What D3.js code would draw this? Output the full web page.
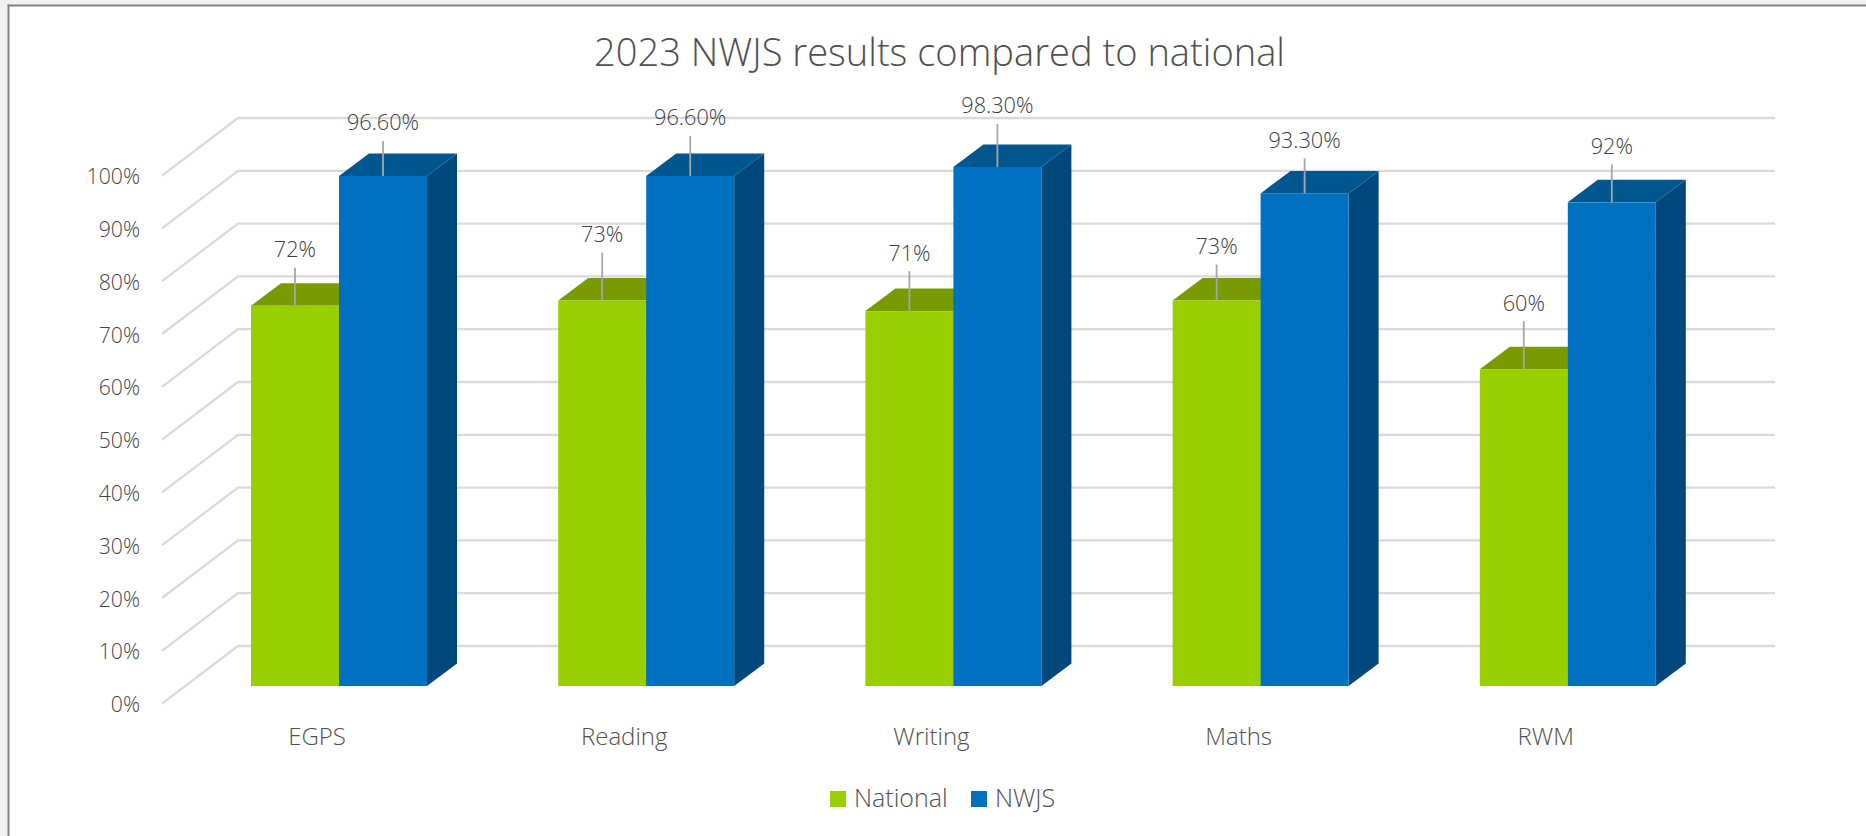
<!DOCTYPE html>
<html>
<head>
<meta charset="utf-8">
<script src="https://cdn.jsdelivr.net/npm/d3@7/dist/d3.min.js"></script>
<style>
html,body{margin:0;padding:0;background:#fff;overflow:hidden}
svg{display:block}
text{font-family:"Open Sans",sans-serif;fill:#505050}
</style>
</head>
<body>
<svg id="chart" width="1866" height="836"></svg>
<script>
const titleText = "2023 NWJS results compared to national";
const categories = ["EGPS", "Reading", "Writing", "Maths", "RWM"];
const seriesNames = ["National", "NWJS"];
const nationalValues = [72, 73, 71, 73, 60];
const nwjsValues = [96.6, 96.6, 98.3, 93.3, 91.6];
const nationalLabels = ["72%", "73%", "71%", "73%", "60%"];
const nwjsLabels = ["96.60%", "96.60%", "98.30%", "93.30%", "92%"];
const tickValues = [0, 10, 20, 30, 40, 50, 60, 70, 80, 90, 100];
const nationalLeaders = [38, 48, 40, 36, 48];
const nwjsLeaders = [35, 40, 43, 35, 38];

const W = 1866, H = 836;
const svg = d3.select("#chart");

// window chrome
svg.append("rect").attr("x",0).attr("y",0).attr("width",W).attr("height",4.5).attr("fill","#f0f0f0");
svg.append("rect").attr("x",0).attr("y",0).attr("width",7.5).attr("height",H).attr("fill","#f0f0f0");
svg.append("rect").attr("x",7.5).attr("y",4.5).attr("width",W-7.5).attr("height",2).attr("fill","#808080");
svg.append("rect").attr("x",7.5).attr("y",4.5).attr("width",2).attr("height",H-4.5).attr("fill","#808080");

// scales: bars stand on the front plane
const y = d3.scaleLinear().domain([0,100]).range([686,158]);
const band = d3.scaleBand().domain(categories).range([185.4,1721.4]).paddingInner(0).paddingOuter(0);
const barW = 88, barDx = 30, barDy = 22.5;
const barLeft = c => band(c) + (band.bandwidth() - 2*barW)/2;

// grid: offsets from the bar plane to the wall and to the floor's front edge
const wallDy = -40, wallX = 238, gridRight = 1775, frontX = 162, frontDy = 17.6;
const grid = svg.append("g").attr("fill","none").attr("stroke","#dadada").attr("stroke-width",2.3);
grid.selectAll("path").data(tickValues).join("path")
  .attr("d", v => d3.line()([[frontX, y(v)+frontDy],[wallX, y(v)+wallDy],[gridRight, y(v)+wallDy]]));

// axes (text only)
const axisY = d3.axisLeft(y).tickValues(tickValues).tickFormat(v => v + "%").tickSize(0).tickPadding(0);
const gy = svg.append("g").attr("transform","translate(140,19)").call(axisY);
gy.select(".domain").remove();
gy.selectAll("text").attr("font-size",21.2).attr("font-weight",300).style("font-family",'"Open Sans",sans-serif').style("fill","#454545");

const axisX = d3.axisBottom(band).tickSize(0).tickPadding(0);
const gx = svg.append("g").attr("transform","translate(-22,728.2)").call(axisX);
gx.select(".domain").remove();
gx.selectAll("text").attr("font-size",24).attr("font-weight",300).style("font-family",'"Open Sans",sans-serif').style("fill","#505050");

// bars
const palette = [
  {front:"#99cf00", top:"#789b00", side:"#6f9000"},
  {front:"#0070c0", top:"#00568f", side:"#00487c"}
];
const seriesValues = [nationalValues, nwjsValues];
const seriesLabels = [nationalLabels, nwjsLabels];
const seriesLeaders = [nationalLeaders, nwjsLeaders];

const bars = [];
categories.forEach((c,i) => {
  seriesValues.forEach((vals,s) => {
    bars.push({c, s, v: vals[i], label: seriesLabels[s][i], leader: seriesLeaders[s][i]});
  });
});
const line = d3.line();
const g = svg.append("g").selectAll("g").data(bars).join("g");
g.each(function(d){
  const sel = d3.select(this);
  const x0 = barLeft(d.c) + d.s*barW, x1 = x0 + barW, y0 = y(0), yt = y(d.v), p = palette[d.s];
  sel.append("path").attr("fill",p.side)
    .attr("d", line([[x1,y0],[x1+barDx,y0-barDy],[x1+barDx,yt-barDy],[x1,yt]])+"Z");
  sel.append("path").attr("fill",p.top)
    .attr("d", line([[x0,yt],[x0+barDx,yt-barDy],[x1+barDx,yt-barDy],[x1,yt]])+"Z");
  sel.append("rect").attr("fill",p.front).attr("x",x0).attr("y",yt).attr("width",barW).attr("height",y0-yt);
});
// leaders and labels sit over all bars
const ann = svg.append("g").selectAll("g").data(bars).join("g");
ann.append("line")
  .attr("x1", d => barLeft(d.c)+d.s*barW+barW/2).attr("x2", d => barLeft(d.c)+d.s*barW+barW/2)
  .attr("y1", d => y(d.v)).attr("y2", d => y(d.v)-d.leader)
  .attr("stroke","#a6a6a6").attr("stroke-width",1.8);
ann.append("text")
  .attr("x", d => barLeft(d.c)+d.s*barW+barW/2)
  .attr("y", d => y(d.v)-d.leader-10.5)
  .attr("text-anchor","middle").attr("font-size",21.7).attr("font-weight",300).style("fill","#404040").text(d => d.label);

// title
svg.append("text").attr("x",939.5).attr("y",66).attr("text-anchor","middle")
  .attr("font-size",38.1).attr("font-weight",300).text(titleText);

// legend
const legendX = d3.scaleOrdinal().domain(seriesNames).range([830,971]);
const lg = svg.append("g").selectAll("g").data(seriesNames).join("g");
lg.append("rect").attr("x",d=>legendX(d)).attr("y",791).attr("width",16).attr("height",16)
  .attr("fill",(d,i)=>palette[i].front);
lg.append("text").attr("x",d=>legendX(d)+24).attr("y",806.5).attr("font-size",25).attr("font-weight",300).text(d=>d);
</script>
</body>
</html>
